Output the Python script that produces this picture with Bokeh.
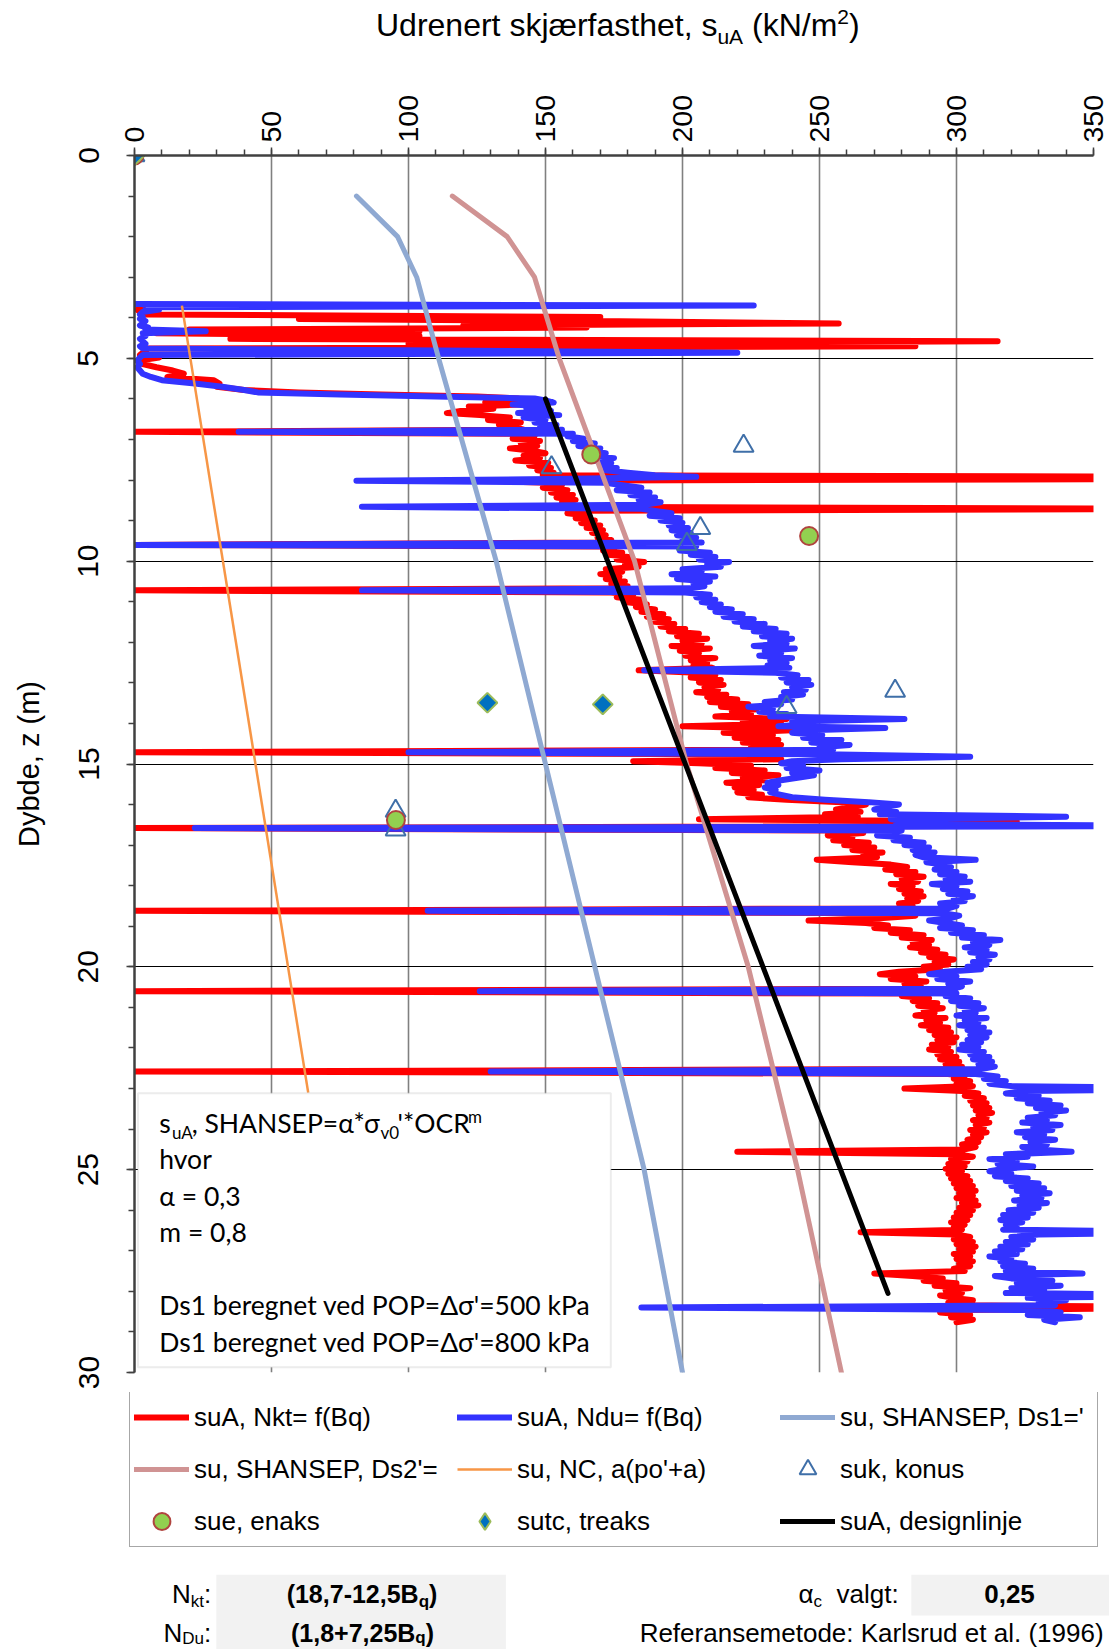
import math
from bokeh.plotting import figure
from bokeh.layouts import column
from bokeh.models import (Range1d, SingleIntervalTicker, Label, BoxAnnotation, Legend,
                          LegendItem)
from bokeh.embed import file_html
from bokeh.resources import INLINE

# ---------------- data ----------------
cpt_depth = [
    3.66, 3.70, 3.74, 3.80, 3.86, 3.92, 3.98, 4.03, 4.08, 4.14,
    4.19, 4.24, 4.29, 4.33, 4.38, 4.45, 4.52, 4.58, 4.64, 4.70,
    4.76, 4.86, 4.92, 4.98, 5.06, 5.14, 5.22, 5.30, 5.38, 5.46,
    5.54, 5.62, 5.70, 5.78, 5.84, 5.89, 5.94, 5.99,
    6.04, 6.09, 6.14, 6.19, 6.24, 6.30, 6.35, 6.40, 6.46, 6.52,
    6.58, 6.64, 6.70, 6.76, 6.81, 6.86, 6.92, 6.98, 7.04, 7.10,
    7.16, 7.22, 7.28, 7.34, 7.40, 7.46, 7.52, 7.58, 7.64, 7.70,
    7.76, 7.82, 7.88, 7.92, 7.97, 8.02, 8.07, 8.13, 8.19, 8.25,
    8.31, 8.37, 8.43, 8.49, 8.55, 8.61, 8.66, 8.71, 8.76, 8.82,
    8.88, 8.94, 9.00, 9.06, 9.12, 9.18, 9.24, 9.30, 9.36, 9.42,
    9.48, 9.54, 9.60, 9.64, 9.69, 9.74, 9.79, 9.84, 9.90, 9.96,
    10.02, 10.08, 10.14, 10.20, 10.26, 10.32, 10.38, 10.44, 10.50, 10.56,
    10.62, 10.67, 10.72, 10.77, 10.83, 10.89, 10.95, 11.01, 11.07, 11.13,
    11.19, 11.25, 11.31, 11.37, 11.43, 11.49, 11.55, 11.61, 11.67, 11.73,
    11.79, 11.85, 11.91, 11.97, 12.03, 12.09, 12.15, 12.21, 12.27, 12.33,
    12.39, 12.45, 12.51, 12.57, 12.63, 12.69, 12.75, 12.81, 12.87, 12.93,
    12.99, 13.05, 13.11, 13.17, 13.23, 13.29, 13.35, 13.41, 13.47, 13.53,
    13.59, 13.65, 13.71, 13.77, 13.83, 13.89, 13.95, 14.01, 14.07, 14.11,
    14.17, 14.23, 14.29, 14.35, 14.41, 14.47, 14.53, 14.59, 14.65, 14.71,
    14.76, 14.82, 14.88, 14.93, 14.98, 15.04, 15.10, 15.16, 15.22, 15.28,
    15.34, 15.40, 15.46, 15.52, 15.58, 15.64, 15.70, 15.76, 15.82, 15.88,
    15.94, 16.00, 16.06, 16.12, 16.18, 16.24, 16.30, 16.36, 16.42, 16.48,
    16.53, 16.58, 16.64, 16.70, 16.76, 16.82, 16.88, 16.94, 17.00, 17.06,
    17.12, 17.18, 17.24, 17.30, 17.36, 17.42, 17.48, 17.54, 17.60, 17.66,
    17.72, 17.78, 17.84, 17.90, 17.96, 18.02, 18.08, 18.14, 18.20, 18.26,
    18.32, 18.38, 18.44, 18.50, 18.56, 18.62, 18.68, 18.74, 18.80, 18.86,
    18.92, 18.98, 19.04, 19.10, 19.16, 19.22, 19.28, 19.34, 19.40, 19.46,
    19.52, 19.58, 19.64, 19.70, 19.76, 19.82, 19.88, 19.94, 20.00, 20.06,
    20.12, 20.18, 20.24, 20.30, 20.36, 20.42, 20.48, 20.54, 20.60, 20.66,
    20.72, 20.78, 20.84, 20.90, 20.96, 21.02, 21.08, 21.14, 21.20, 21.26,
    21.32, 21.38, 21.44, 21.50, 21.56, 21.62, 21.68, 21.74, 21.80, 21.86,
    21.92, 21.98, 22.04, 22.10, 22.16, 22.22, 22.28, 22.34, 22.40, 22.46,
    22.52, 22.58, 22.64, 22.70, 22.76, 22.82, 22.88, 22.94, 23.00, 23.06,
    23.12, 23.18, 23.24, 23.30, 23.36, 23.42, 23.48, 23.54, 23.60, 23.66,
    23.72, 23.78, 23.84, 23.90, 23.96, 24.02, 24.08, 24.14, 24.20, 24.26,
    24.32, 24.38, 24.44, 24.50, 24.56, 24.62, 24.68, 24.74, 24.80, 24.86,
    24.92, 24.98, 25.04, 25.10, 25.16, 25.22, 25.28, 25.34, 25.40, 25.46,
    25.52, 25.58, 25.64, 25.70, 25.76, 25.82, 25.88, 25.94, 26.00, 26.06,
    26.12, 26.18, 26.24, 26.30, 26.36, 26.42, 26.48, 26.54, 26.60, 26.66,
    26.72, 26.78, 26.84, 26.90, 26.96, 27.02, 27.08, 27.14, 27.20, 27.26,
    27.32, 27.38, 27.44, 27.50, 27.56, 27.62, 27.68, 27.74, 27.80, 27.86,
    27.92, 27.98, 28.04, 28.10, 28.16, 28.22, 28.28, 28.34, 28.40, 28.46,
    28.52, 28.58, 28.64, 28.70, 28.76,
]
su_nkt = [
    0, 2, 3, 1, 2, 4, 170, 60, 168, 257,
    120, 165, 20, 104, 8, 104, 35, 315, 100, 285,
    5, 3, 2, 9, 1, 3, 8, 14, 18, 12,
    29, 31, 30, 40, 60, 90, 125, 140,
    135, 128, 140, 122, 131, 119, 114, 126, 137, 129,
    141, 133, 139, 142, 0, 140, 146, 138, 148, 141,
    147, 137, 145, 150, 142, 148, 139, 151, 144, 152,
    147, 153, 149, 400, 400, 131, 150, 156, 149, 158,
    152, 160, 154, 161, 156, 160, 155, 400, 162, 158,
    166, 161, 168, 163, 170, 165, 171, 167, 172, 169,
    174, 170, 0, 172, 175, 171, 178, 173, 181, 176,
    186, 179, 184, 172, 178, 170, 177, 172, 179, 174,
    180, 176, 0, 174, 182, 176, 185, 179, 187, 183,
    190, 185, 193, 187, 195, 189, 197, 192, 201, 195,
    206, 198, 209, 200, 207, 196, 210, 199, 206, 201,
    212, 203, 209, 204, 211, 184, 205, 212, 203, 214,
    206, 215, 208, 213, 205, 216, 209, 220, 210, 224,
    214, 227, 218, 225, 212, 238, 222, 236, 200, 226,
    240, 215, 233, 219, 235, 222, 236, 225, 232, 0,
    228, 233, 236, 182, 206, 225, 212, 230, 218, 235,
    222, 230, 216, 228, 219, 226, 220, 229, 224, 238,
    258, 267, 262, 256, 265, 252, 264, 206, 322, 262,
    300, 0, 258, 266, 253, 262, 255, 268, 259, 270,
    262, 273, 266, 271, 249, 262, 276, 282, 274, 285,
    278, 288, 280, 286, 276, 284, 279, 287, 281, 288,
    282, 286, 279, 284, 282, 0, 280, 285, 272, 246,
    267, 275, 270, 283, 276, 288, 280, 291, 284, 290,
    283, 293, 287, 296, 290, 299, 292, 297, 288, 294,
    279, 272, 285, 276, 289, 281, 287, 283, 0, 285,
    280, 290, 284, 293, 286, 295, 288, 292, 285, 296,
    289, 294, 287, 297, 290, 298, 292, 300, 293, 299,
    291, 297, 290, 298, 293, 300, 294, 301, 296, 302,
    298, 0, 297, 303, 299, 305, 300, 306, 281, 302,
    308, 303, 310, 305, 311, 306, 312, 307, 313, 308,
    311, 306, 312, 307, 310, 305, 311, 306, 309, 304,
    308, 302, 307, 303, 220, 300, 306, 298, 304, 297,
    303, 296, 302, 297, 304, 298, 305, 299, 306, 300,
    307, 301, 306, 300, 307, 302, 308, 301, 306, 300,
    305, 299, 304, 298, 303, 299, 302, 265, 300, 305,
    299, 306, 300, 307, 301, 306, 299, 305, 300, 306,
    301, 305, 299, 303, 270, 284, 295, 288, 300, 292,
    305, 296, 302, 294, 299, 306, 297, 303, 400, 300,
    294, 305, 298, 306, 300,
]
su_ndu = [
    0, 226, 4, 9, 3, 2, 3, 2, 4, 3,
    2, 5, 4, 26, 3, 4, 2, 3, 4, 2,
    3, 220, 3, 2, 1, 2, 1, 2, 3, 6,
    10, 22, 32, 40, 45, 75, 110, 146,
    150, 153, 138, 150, 143, 152, 140, 155, 142, 150,
    146, 154, 148, 156, 38, 160, 158, 164, 160, 168,
    162, 170, 165, 172, 166, 175, 168, 174, 170, 176,
    172, 180, 190, 205, 160, 81, 172, 178, 185, 176,
    188, 181, 190, 184, 192, 186, 83, 185, 190, 196,
    188, 199, 192, 200, 195, 202, 196, 203, 198, 205,
    200, 207, 0, 205, 203, 199, 210, 203, 212, 206,
    217, 209, 214, 200, 207, 196, 212, 198, 210, 204,
    208, 203, 83, 201, 210, 205, 212, 207, 214, 210,
    218, 212, 222, 215, 226, 219, 230, 222, 234, 226,
    238, 229, 240, 232, 238, 226, 241, 230, 236, 228,
    240, 232, 238, 231, 239, 186, 234, 242, 236, 246,
    238, 247, 240, 245, 237, 244, 236, 240, 230, 236,
    224, 233, 228, 238, 232, 281, 240, 248, 235, 274,
    246, 240, 251, 244, 258, 247, 261, 250, 255, 100,
    252, 305, 258, 240, 236, 244, 238, 250, 240, 248,
    242, 236, 231, 235, 230, 234, 232, 236, 240, 252,
    268, 279, 274, 270, 278, 272, 340, 276, 282, 278,
    400, 22, 280, 276, 271, 283, 277, 288, 281, 290,
    284, 292, 285, 288, 307, 289, 295, 298, 292, 300,
    294, 303, 296, 305, 291, 300, 295, 304, 297, 306,
    299, 303, 294, 300, 297, 107, 295, 301, 298, 290,
    296, 302, 294, 306, 298, 310, 302, 316, 306, 312,
    303, 311, 305, 314, 308, 312, 306, 311, 304, 309,
    296, 290, 300, 293, 305, 297, 302, 299, 126, 300,
    296, 305, 298, 308, 301, 310, 303, 307, 300, 311,
    303, 308, 301, 310, 304, 312, 305, 311, 304, 309,
    302, 308, 301, 310, 305, 312, 306, 313, 308, 314,
    309, 130, 307, 315, 310, 318, 312, 320, 400, 325,
    318, 330, 322, 334, 326, 338, 329, 340, 331, 336,
    326, 333, 324, 338, 328, 335, 322, 332, 325, 336,
    327, 333, 324, 330, 342, 318, 326, 312, 322, 315,
    328, 317, 312, 320, 314, 326, 318, 330, 320, 332,
    322, 334, 324, 331, 321, 333, 323, 330, 319, 328,
    317, 326, 316, 324, 318, 322, 317, 400, 330, 320,
    328, 318, 326, 316, 324, 314, 322, 312, 320, 316,
    325, 317, 328, 318, 346, 314, 320, 335, 322, 338,
    320, 332, 318, 400, 326, 340, 330, 336, 185, 330,
    338, 326, 345, 332, 336,
]
shansep1_depth = [1, 2, 3, 5, 10, 15, 20, 25, 30]
shansep1_su = [81, 96, 103, 111, 132, 150, 168, 186, 200]
shansep2_depth = [1, 2, 3, 5, 10, 15, 20, 25, 30]
shansep2_su = [116, 136, 146, 155, 182.5, 201.5, 224, 242, 258]
nc_depth = [3.7, 23.1]
nc_su = [17.3, 63.4]
design_depth = [6.0, 28.05]
design_su = [150, 275]
konus_depth = [0, 7.16, 7.69, 9.19, 9.58, 13.2, 13.6, 16.16, 16.62]
konus_su = [0, 222.3, 152.2, 206.5, 201.6, 277.6, 238.0, 95.3, 95.3]
enaks_depth = [0, 7.37, 9.38, 16.38]
enaks_su = [0, 166.7, 246.2, 95.4]
treaks_depth = [0, 13.49, 13.53]
treaks_su = [0, 128.8, 170.9]

legend_labels = ["suA, Nkt= f(Bq)", "suA, Ndu= f(Bq)", "su, SHANSEP, Ds1='",
                 "su, SHANSEP, Ds2'=", "su, NC, a(po'+a)", "suk, konus",
                 "sue, enaks", "sutc, treaks", "suA, designlinje"]

# ---------------- styles ----------------
STY = [
    dict(kind="line", line_color="#FF0000", line_width=6, line_cap="round", line_join="round"),
    dict(kind="line", line_color="#3333FF", line_width=6, line_cap="round", line_join="round"),
    dict(kind="line", line_color="#8FA9D2", line_width=5, line_cap="round", line_join="round"),
    dict(kind="line", line_color="#D09393", line_width=5, line_cap="round", line_join="round"),
    dict(kind="line", line_color="#F79646", line_width=2.5),
    dict(kind="scatter", marker="triangle", size=20, fill_color=None, line_color="#3F6FA8", line_width=2),
    dict(kind="scatter", marker="circle", size=18, fill_color="#92D050", line_color="#B0443F", line_width=2),
    dict(kind="scatter", marker="square", angle=math.pi / 4, size=14, fill_color="#0070C0",
         line_color="#9BBB59", line_width=2),
    dict(kind="line", line_color="black", line_width=5, line_cap="round"),
]
SERIES = [(su_nkt, cpt_depth), (su_ndu, cpt_depth), (shansep1_su, shansep1_depth),
          (shansep2_su, shansep2_depth), (nc_su, nc_depth), (konus_su, konus_depth),
          (enaks_su, enaks_depth), (treaks_su, treaks_depth), (design_su, design_depth)]


def draw(fig, i, legend_only=False, **extra):
    st = dict(STY[i])
    kind = st.pop("kind")
    if legend_only and st.get("marker") == "square":
        st["marker"] = "diamond"
        st.pop("angle")
    xs, ys = SERIES[i]
    if kind == "line":
        return fig.line(xs, ys, **st, **extra)
    return fig.scatter(xs, ys, **st, **extra)


W = 1109
AW = {' ': 278, ',': 278, '.': 278, ':': 278, '(': 333, ')': 333, '-': 333, '+': 584, '=': 584,
      '*': 389, "'": 191, '/': 278, 'A': 667, 'B': 667, 'C': 722, 'D': 722, 'E': 667, 'H': 722,
      'K': 667, 'N': 722, 'O': 778, 'P': 667, 'R': 722, 'S': 667, 'U': 722, 'a': 556, 'b': 556,
      'c': 500, 'd': 556, 'e': 556, 'f': 278, 'g': 556, 'h': 556, 'i': 222, 'j': 222, 'k': 500,
      'l': 222, 'm': 833, 'n': 556, 'o': 556, 'p': 556, 'q': 556, 'r': 333, 's': 500, 't': 278,
      'u': 556, 'v': 500, 'z': 500, 'æ': 889, 'α': 578, 'σ': 617, 'Δ': 668}
BW = {'B': 722, 'q': 611, '+': 584}
BASE_SHIFT = 0.33   # Label anchor lies this many em below the drawn baseline


def tw(t, size, bold=False, k=1.0):
    tot = 0
    for c in t:
        tot += BW[c] if (bold and c in BW) else AW.get(c, 556)
    return tot / 1000.0 * size * k


def rich(fig, X, Y, pieces, px, py, font="Liberation Sans", align="left", k=1.0):
    total = sum(tw(t, s, b, k) for t, s, dy, b in pieces)
    if align == "right":
        px -= total
    elif align == "center":
        px -= total / 2
    for t, s, dy, b in pieces:
        core = t.strip(" ")
        lead = len(t) - len(t.lstrip(" "))
        px += tw(" " * lead, s, b, k)
        fig.add_layout(Label(x=X(px), y=Y(py + dy - BASE_SHIFT * s), text=core, text_font=font,
                             text_font_size=f"{s}px", text_font_style="bold" if b else "normal",
                             text_baseline="alphabetic", text_align="left", text_color="black"))
        px += tw(t.lstrip(" "), s, b, k)


def blank_fig(top, height):
    f = figure(width=W, height=height, x_range=Range1d(0, W), y_range=Range1d(top + height, top),
               x_axis_location=None, y_axis_location=None, output_backend="svg",
               toolbar_location=None, title=None, min_border=0, frame_align=False)
    f.outline_line_color = None
    f.grid.visible = False
    return f


ident = lambda v: v

# ---------------- title strip (page y 0..60) ----------------
tf = blank_fig(0, 60)
rich(tf, ident, ident, [("Udrenert skjærfasthet, s", 32, 0, False), ("uA", 21, 8, False),
                        (" (kN/m", 32, 0, False), ("2", 21, -12, False), (")", 32, 0, False)],
     375.5, 35.0)

# ---------------- main chart (page y 60..1392) ----------------
p = figure(width=W, height=1332, x_range=Range1d(0, 350), y_range=Range1d(30, 0),
           x_axis_location="above", output_backend="svg", toolbar_location=None,
           title=None, min_border_left=134, min_border_right=16,
           min_border_top=95, min_border_bottom=20, frame_align=False)
p.outline_line_color = None

xt = SingleIntervalTicker(interval=50, num_minor_ticks=5)
yt = SingleIntervalTicker(interval=5, num_minor_ticks=5)
xa = p.xaxis[0]
ya = p.yaxis[0]
xa.ticker = xt
ya.ticker = yt
p.xgrid.ticker = xt
p.ygrid.ticker = yt
p.xgrid.grid_line_color = "#808080"
p.xgrid.grid_line_width = 1.6
p.ygrid.grid_line_color = "#000000"
p.ygrid.grid_line_width = 1.2

for ax in (xa, ya):
    ax.major_label_text_font = "Liberation Sans"
    ax.major_label_text_color = "black"
    ax.axis_line_color = "#404040"
    ax.axis_line_width = 2.5
    ax.major_tick_line_color = "#404040"
    ax.minor_tick_line_color = "#404040"
    ax.major_tick_line_width = 1.5
    ax.minor_tick_line_width = 1.5
    ax.major_tick_in = 0
    ax.minor_tick_in = 0
    ax.major_tick_out = 8
    ax.minor_tick_out = 6
xa.major_label_text_font_size = "28.5px"
ya.major_label_text_font_size = "30px"
xa.major_label_orientation = "vertical"
xa.major_label_standoff = 5
ya.major_label_orientation = "parallel"
ya.major_label_standoff = 28
ya.axis_label = "Dybde, z (m)"
ya.axis_label_text_font = "Liberation Sans"
ya.axis_label_text_font_size = "29px"
ya.axis_label_text_font_style = "normal"
ya.axis_label_text_color = "black"
ya.axis_label_standoff = 31

for i in range(len(SERIES)):
    draw(p, i)

# text box inside the plot (page pixel helpers)
SX = 959 / 350.0
SY = 1217 / 30.0
FL, FT = 134.0, 155.0
PX = lambda px: (px - FL) / SX
PY = lambda py: (py - FT) / SY
p.add_layout(BoxAnnotation(left=PX(137.5), right=PX(610.3), top=PY(1092.7), bottom=PY(1366.7),
                           fill_color="white", fill_alpha=1, line_color="#BFBFBF", line_width=2))
BF, BS, KB = "Lato", 26.5, 0.95
rich(p, PX, PY, [("s", BS, 0, False), ("uA", 17, 6, False), (", SHANSEP=α*σ", BS, 0, False),
                 ("v0", 17, 6, False), ("'*OCR", BS, 0, False), ("m", 17, -10, False)],
     158.8, 1131.7, font=BF, k=KB)
for txt, yy in [("hvor", 1167.3), ("α = 0,3", 1204.0), ("m = 0,8", 1240.7),
                ("Ds1 beregnet ved POP=Δσ'=500 kPa", 1313.3),
                ("Ds1 beregnet ved POP=Δσ'=800 kPa", 1350.0)]:
    rich(p, PX, PY, [(txt, BS, 0, False)], 158.8, yy, font=BF, k=KB)

# ---------------- legend + bottom strip (page y 1392..1649) ----------------
bf = blank_fig(1392, 257)
bf.extra_x_ranges = {"off": Range1d(5000, 6000)}
bf.extra_y_ranges = {"off": Range1d(5000, 6000)}
leg_r = [draw(bf, i, legend_only=True, x_range_name="off", y_range_name="off")
         for i in range(len(SERIES))]
legend = Legend(items=[LegendItem(label=l, renderers=[r]) for l, r in zip(legend_labels, leg_r)],
                orientation="horizontal", ncols=3, location=(129, 102),
                glyph_width=55, glyph_height=42, label_height=42, label_width=253,
                label_standoff=5, spacing=10, padding=4, margin=0,
                label_text_font="Liberation Sans", label_text_font_size="26px",
                label_text_color="black", border_line_color="#505050",
                border_line_width=1.2, background_fill_color="white", background_fill_alpha=1)
bf.add_layout(legend, "center")

bf.add_layout(BoxAnnotation(left=215.8, right=505.4, top=1574.3, bottom=1660,
                            fill_color="#F2F2F2", fill_alpha=1, line_color=None))
bf.add_layout(BoxAnnotation(left=910.8, right=1115, top=1574.3, bottom=1615,
                            fill_color="#F2F2F2", fill_alpha=1, line_color=None))
R1, R2 = 1601.7, 1641.0
rich(bf, ident, ident, [("N", 26, 0, False), ("kt", 17, 5, False), (":", 26, 0, False)], 210.7, R1, align="right")
rich(bf, ident, ident, [("(18,7-12,5B", 25, 0, True), ("q", 17, 5, True), (")", 25, 0, True)], 361.5, R1, align="center")
rich(bf, ident, ident, [("N", 26, 0, False), ("Du", 17, 3, False), (":", 26, 0, False)], 210.7, R2, align="right")
rich(bf, ident, ident, [("(1,8+7,25B", 25, 0, True), ("q", 17, 2, True), (")", 25, 0, True)], 362.0, R2, align="center")
rich(bf, ident, ident, [("α", 26, 0, False), ("c", 17, 5, False), ("  valgt:", 26, 0, False)], 798.0, R1)
rich(bf, ident, ident, [("0,25", 26, 0, True)], 1009.0, R1, align="center")
rich(bf, ident, ident, [("Referansemetode: Karlsrud et al. (1996)", 26, 0, False)], 1103.0, R2, align="right")

layout = column(tf, p, bf, spacing=0)
open("out.html", "w").write(file_html(layout, INLINE, "chart"))
